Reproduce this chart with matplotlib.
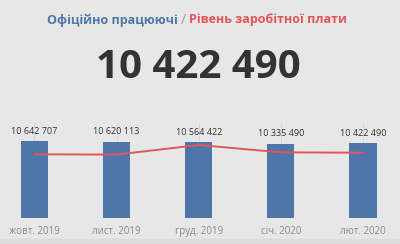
import matplotlib.pyplot as plt
from matplotlib.patches import Rectangle

# --- Dades ---
mesos = ["жовт. 2019", "лист. 2019", "груд. 2019", "січ. 2020", "лют. 2020"]
pracuiuchi = [10642707, 10620113, 10564422, 10335490, 10422490]
zarplata = [10727, 10680, 12264, 11050, 10990]   # estimated from the line
ostannie = "10 422 490"

def fmt(v):
    return f"{v:,}".replace(",", " ")

plt.rcParams['font.family'] = ['Open Sans', 'DejaVu Sans']

bg = "#e7e7e7"
blue = "#4e76a8"
red = "#e15759"

fig = plt.figure(figsize=(4, 2.44), dpi=100, facecolor=bg)
fig.patches.append(Rectangle((0, 0), 1, 5 / 244, transform=fig.transFigure,
                             color="#dcdcdc", zorder=0))

# --- Titol ---
fig.text(178 / 400, 1 - 20 / 244, "Офіційно працюючі", color=blue,
         fontsize=9, fontweight="bold", ha="right", va="center")
fig.text(183.5 / 400, 1 - 20 / 244, "/", color="#999999",
         fontsize=10, ha="center", va="center")
fig.text(189 / 400, 1 - 20 / 244, "Рівень заробітної плати", color=red,
         fontsize=9, fontweight="bold", ha="left", va="center")

# --- Numero gran ---
fig.text(198 / 400, 1 - 67.5 / 244, ostannie, color="#333333",
         fontsize=29, fontweight="bold", ha="center", va="center")

# --- Grafic ---
ax = fig.add_axes([0, 26 / 244, 1, 95 / 244])
ax.set_facecolor("none")
x = list(range(len(mesos)))
ax.bar(x, pracuiuchi, width=0.33, color=blue, zorder=2)
for xi in x:
    ax.axvline(xi, color="#d6d6d6", lw=0.6, zorder=1)
for xi, v in zip(x, pracuiuchi):
    ax.annotate(fmt(v), (xi, v), xytext=(0, 7), textcoords="offset points",
                ha="center", va="center", fontsize=6.5, color="#333333")
ax.set_xlim(-0.42, 4.45)
ax.set_ylim(0, 13216000)
ax.set_xticks(x)
ax.set_xticklabels(mesos, fontsize=7, color="#8a8a8a")
ax.tick_params(length=0, pad=6)
ax.set_yticks([])
for s in ax.spines.values():
    s.set_visible(False)

ax2 = ax.twinx()
ax2.plot(x, zarplata, color=red, lw=1.4, zorder=3)
ax2.set_ylim(198, 15901)
ax2.set_yticks([])
for s in ax2.spines.values():
    s.set_visible(False)

fig.savefig("out.png", dpi=100, facecolor=bg)
